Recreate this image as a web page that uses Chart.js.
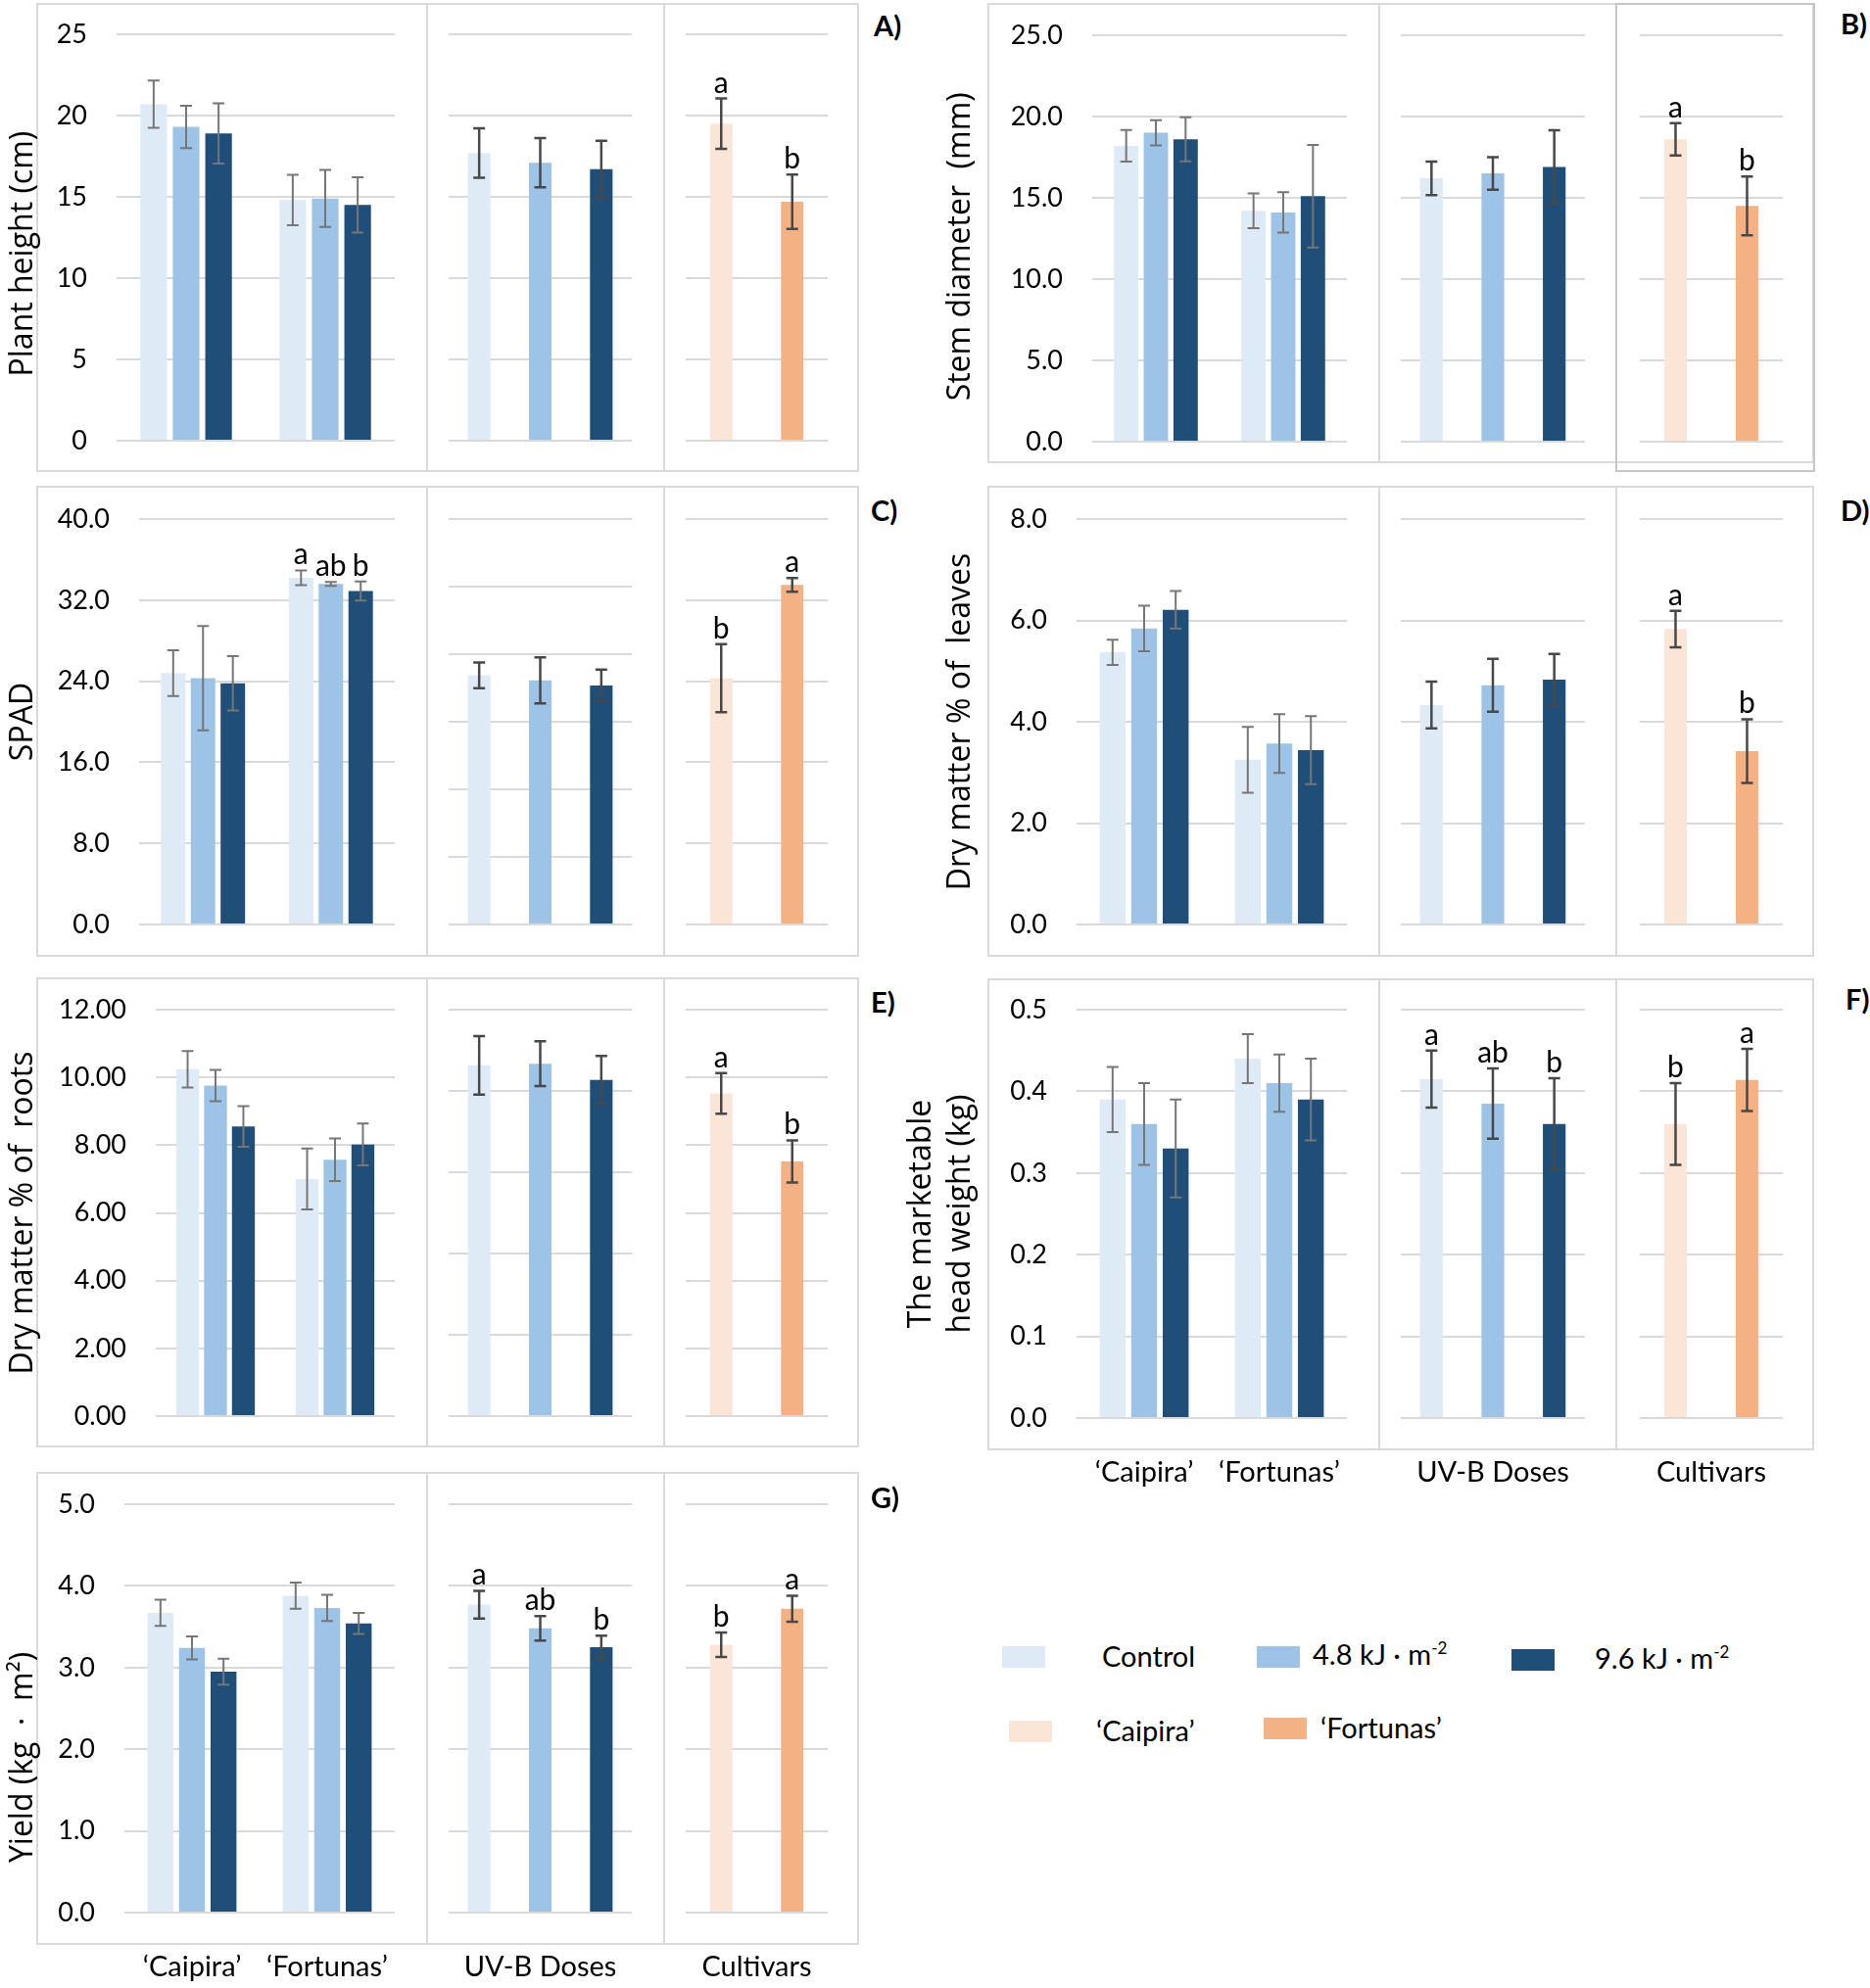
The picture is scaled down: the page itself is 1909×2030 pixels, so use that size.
<!DOCTYPE html>
<html>
<head>
<meta charset="utf-8">
<script src="https://cdn.jsdelivr.net/npm/chart.js@4.4.1/dist/chart.umd.min.js"></script>
<style>
  html, body { margin: 0; padding: 0; background: #fff; overflow: hidden; }
  body { width: 1909px; height: 2030px; position: relative; font-family: Lato, sans-serif; }
  canvas { position: absolute; }
  .box { position: absolute; border: 2px solid #d9d9d9; box-sizing: border-box; }
  .vline { position: absolute; width: 2px; background: #d9d9d9; }
  .tag { position: absolute; font: bold 29px Lato; line-height: 1; color: #000; }
  .sw { position: absolute; width: 44px; height: 22px; }
  .lt { position: absolute; font: 29px Lato; line-height: 1; white-space: nowrap; color: #000; }
  .lt sup { font-size: 17px; vertical-align: 11px; }
</style>
</head>
<body>
<script>
// categories
const cultivars = ['\u2018Caipira\u2019', '\u2018Fortunas\u2019'];
const doses = ['Control', '4.8 kJ \u00b7 m-2', '9.6 kJ \u00b7 m-2'];

// A) plant height (cm)
const heightTicks = ['0', '5', '10', '15', '20', '25'];
const heightCaipira = [20.7, 19.3, 18.9];
const heightCaipiraSd = [1.45, 1.3, 1.85];
const heightFortunas = [14.8, 14.9, 14.5];
const heightFortunasSd = [1.55, 1.75, 1.7];
const heightDose = [17.7, 17.1, 16.7];
const heightDoseSd = [1.52, 1.52, 1.75];
const heightCult = [19.5, 14.7];
const heightCultSd = [1.55, 1.67];
const heightCultLetters = ['a', 'b'];

// B) stem diameter (mm)
const stemTicks = ['0.0', '5.0', '10.0', '15.0', '20.0', '25.0'];
const stemCaipira = [18.2, 19.0, 18.6];
const stemCaipiraSd = [0.97, 0.78, 1.36];
const stemFortunas = [14.2, 14.1, 15.1];
const stemFortunasSd = [1.07, 1.24, 3.15];
const stemDose = [16.2, 16.5, 16.9];
const stemDoseSd = [1.03, 1.0, 2.25];
const stemCult = [18.6, 14.5];
const stemCultSd = [1.0, 1.81];
const stemCultLetters = ['a', 'b'];

// C) SPAD
const spadTicks = ['0.0', '8.0', '16.0', '24.0', '32.0', '40.0'];
const spadDoseTicks = ['0.0', '8.0', '16.0', '24.0', '32.0', '40.0', '48.0'];
const spadCaipira = [24.8, 24.3, 23.8];
const spadCaipiraSd = [2.26, 5.15, 2.68];
const spadFortunas = [34.2, 33.6, 32.9];
const spadFortunasSd = [0.73, 0.2, 0.94];
const spadFortunasLetters = ['a', 'ab', 'b'];
const spadDose = [29.5, 28.9, 28.3];
const spadDoseSd = [1.52, 2.72, 1.86];
const spadCult = [24.3, 33.5];
const spadCultSd = [3.35, 0.67];
const spadCultLetters = ['b', 'a'];

// D) dry matter % of leaves
const leafTicks = ['0.0', '2.0', '4.0', '6.0', '8.0'];
const leafCaipira = [5.37, 5.84, 6.21];
const leafCaipiraSd = [0.25, 0.45, 0.37];
const leafFortunas = [3.25, 3.57, 3.44];
const leafFortunasSd = [0.65, 0.58, 0.67];
const leafDose = [4.33, 4.72, 4.83];
const leafDoseSd = [0.46, 0.52, 0.51];
const leafCult = [5.83, 3.42];
const leafCultSd = [0.36, 0.63];
const leafCultLetters = ['a', 'b'];

// E) dry matter % of roots
const rootTicks = ['0.00', '2.00', '4.00', '6.00', '8.00', '10.00', '12.00'];
const rootDoseTicks = ['0.00', '2.00', '4.00', '6.00', '8.00', '10.00'];
const rootCaipira = [10.24, 9.76, 8.55];
const rootCaipiraSd = [0.54, 0.46, 0.6];
const rootFortunas = [7.0, 7.57, 8.02];
const rootFortunasSd = [0.9, 0.63, 0.62];
const rootDose = [8.63, 8.67, 8.27];
const rootDoseSd = [0.72, 0.55, 0.59];
const rootCult = [9.53, 7.52];
const rootCultSd = [0.6, 0.62];
const rootCultLetters = ['a', 'b'];

// F) marketable head weight (kg)
const headTicks = ['0.0', '0.1', '0.2', '0.3', '0.4', '0.5'];
const headCaipira = [0.39, 0.36, 0.33];
const headCaipiraSd = [0.04, 0.05, 0.06];
const headFortunas = [0.44, 0.41, 0.39];
const headFortunasSd = [0.03, 0.035, 0.05];
const headDose = [0.415, 0.385, 0.36];
const headDoseSd = [0.035, 0.043, 0.056];
const headDoseLetters = ['a', 'ab', 'b'];
const headCult = [0.36, 0.414];
const headCultSd = [0.05, 0.038];
const headCultLetters = ['b', 'a'];

// G) yield (kg m-2)
const yieldTicks = ['0.0', '1.0', '2.0', '3.0', '4.0', '5.0'];
const yieldCaipira = [3.67, 3.24, 2.95];
const yieldCaipiraSd = [0.16, 0.14, 0.16];
const yieldFortunas = [3.88, 3.73, 3.54];
const yieldFortunasSd = [0.16, 0.16, 0.13];
const yieldDose = [3.77, 3.48, 3.25];
const yieldDoseSd = [0.17, 0.15, 0.14];
const yieldDoseLetters = ['a', 'ab', 'b'];
const yieldCult = [3.28, 3.72];
const yieldCultSd = [0.15, 0.16];
const yieldCultLetters = ['b', 'a'];

const doseColors = ['#DEEBF7', '#9DC3E6', '#1F4E79'];
const cultColors = ['#FBE5D6', '#F4B183'];

// trailing blanks nudge a rotated title down the axis
const pad = n => ' '.repeat(n);

const panels = [
  { tag: 'A)', col: 0, box: [3, 482], plot: [35, 450], s1L: 119, tagPos: [892, 11],
    title: 'Plant height (cm)' + pad(4), ticks: heightTicks, doseTicks: heightTicks,
    caipira: heightCaipira, caipiraSd: heightCaipiraSd, fortunas: heightFortunas, fortunasSd: heightFortunasSd,
    dose: heightDose, doseSd: heightDoseSd, cult: heightCult, cultSd: heightCultSd, cultLetters: heightCultLetters },
  { tag: 'B)', col: 1, box: [3, 473], plot: [36, 451], s1L: 1115, tagPos: [1879, 9],
    title: 'Stem diameter  (mm)' + pad(2), ticks: stemTicks, doseTicks: stemTicks,
    caipira: stemCaipira, caipiraSd: stemCaipiraSd, fortunas: stemFortunas, fortunasSd: stemFortunasSd,
    dose: stemDose, doseSd: stemDoseSd, cult: stemCult, cultSd: stemCultSd, cultLetters: stemCultLetters },
  { tag: 'C)', col: 0, box: [496, 977], plot: [530, 944], s1L: 142, tagPos: [889, 506],
    title: 'SPAD', ticks: spadTicks, doseTicks: spadDoseTicks,
    caipira: spadCaipira, caipiraSd: spadCaipiraSd, fortunas: spadFortunas, fortunasSd: spadFortunasSd,
    fortunasLetters: spadFortunasLetters,
    dose: spadDose, doseSd: spadDoseSd, cult: spadCult, cultSd: spadCultSd, cultLetters: spadCultLetters },
  { tag: 'D)', col: 1, box: [496, 977], plot: [530, 944], s1L: 1099, tagPos: [1879, 506],
    title: 'Dry matter % of  leaves', ticks: leafTicks, doseTicks: leafTicks,
    caipira: leafCaipira, caipiraSd: leafCaipiraSd, fortunas: leafFortunas, fortunasSd: leafFortunasSd,
    dose: leafDose, doseSd: leafDoseSd, cult: leafCult, cultSd: leafCultSd, cultLetters: leafCultLetters },
  { tag: 'E)', col: 0, box: [998, 1478], plot: [1031, 1446], s1L: 159, tagPos: [889, 1008],
    title: 'Dry matter % of  roots', ticks: rootTicks, doseTicks: rootDoseTicks,
    caipira: rootCaipira, caipiraSd: rootCaipiraSd, fortunas: rootFortunas, fortunasSd: rootFortunasSd,
    dose: rootDose, doseSd: rootDoseSd, cult: rootCult, cultSd: rootCultSd, cultLetters: rootCultLetters },
  { tag: 'F)', col: 1, box: [999, 1481], plot: [1031, 1448], s1L: 1099, tagPos: [1884, 1005],
    canvasL: 900, labels: true,
    title: ['The marketable', 'head weight (kg)'], ticks: headTicks, doseTicks: headTicks,
    caipira: headCaipira, caipiraSd: headCaipiraSd, fortunas: headFortunas, fortunasSd: headFortunasSd,
    dose: headDose, doseSd: headDoseSd, doseLetters: headDoseLetters,
    cult: headCult, cultSd: headCultSd, cultLetters: headCultLetters },
  { tag: 'G)', col: 0, box: [1503, 1986], plot: [1536, 1953], s1L: 127, tagPos: [889, 1514],
    labels: true,
    title: 'Yield (kg  \u00b7  m\u00b2)' + pad(12), ticks: yieldTicks, doseTicks: yieldTicks,
    caipira: yieldCaipira, caipiraSd: yieldCaipiraSd, fortunas: yieldFortunas, fortunasSd: yieldFortunasSd,
    dose: yieldDose, doseSd: yieldDoseSd, doseLetters: yieldDoseLetters,
    cult: yieldCult, cultSd: yieldCultSd, cultLetters: yieldCultLetters },
];

const colGeo = [
  { boxL: 37, d1: 436, d2: 678, boxR: 877, s1R: 403, s2: [458, 645], s3: [700, 845], canvasL: 0 },
  { boxL: 1008, d1: 1408, d2: 1650, boxR: 1852, s1R: 1375, s2: [1430, 1618], s3: [1674, 1820], canvasL: 940 },
];

const titleSize = 32;

const errorBars = {
  id: 'errorBars',
  afterDatasetsDraw(chart, args, opts) {
    const ctx = chart.ctx;
    const y = chart.scales.y;
    chart.data.datasets.forEach((ds, i) => {
      chart.getDatasetMeta(i).data.forEach((bar, j) => {
        const v = ds.data[j], e = ds.errors[j];
        const yTop = y.getPixelForValue(v + e);
        const yBot = y.getPixelForValue(v - e);
        ctx.save();
        ctx.strokeStyle = opts.color;
        ctx.lineWidth = opts.width;
        ctx.beginPath();
        ctx.moveTo(bar.x, yTop); ctx.lineTo(bar.x, yBot);
        ctx.moveTo(bar.x - 6, yTop); ctx.lineTo(bar.x + 6, yTop);
        ctx.moveTo(bar.x - 6, yBot); ctx.lineTo(bar.x + 6, yBot);
        ctx.stroke();
        const letter = ds.letters && ds.letters[j];
        if (letter) {
          ctx.fillStyle = '#000';
          ctx.font = '30px Lato';
          ctx.textAlign = 'center';
          ctx.textBaseline = 'alphabetic';
          ctx.fillText(letter, bar.x, yTop - 6);
        }
        ctx.restore();
      });
    });
  }
};

function addDiv(cls, l, t, w, h, extra) {
  const d = document.createElement('div');
  d.className = cls;
  d.style.left = l + 'px'; d.style.top = t + 'px';
  if (w != null) d.style.width = w + 'px';
  if (h != null) d.style.height = h + 'px';
  if (extra) Object.assign(d.style, extra);
  document.body.appendChild(d);
  return d;
}

function makeChart(rect, area, opt) {
  const c = document.createElement('canvas');
  c.width = rect.w; c.height = rect.h;
  c.style.left = rect.l + 'px'; c.style.top = rect.t + 'px';
  document.body.appendChild(c);
  const yw = opt.yLabels ? area.l - rect.l : 0;
  const xh = opt.xh;
  const tickStrs = opt.ticks;
  const vals = tickStrs.map(Number);
  new Chart(c, {
    type: 'bar',
    data: { labels: opt.labels, datasets: opt.datasets },
    options: {
      responsive: false,
      animation: false,
      devicePixelRatio: 1,
      layout: { padding: {
        left: area.l - rect.l - yw,
        top: area.t - rect.t,
        right: rect.l + rect.w - area.r,
        bottom: rect.t + rect.h - area.b - xh
      } },
      datasets: { bar: { categoryPercentage: opt.catPct, barPercentage: opt.barPct, borderWidth: 0 } },
      plugins: {
        legend: { display: false },
        tooltip: { enabled: false },
        errorBars: { color: opt.errColor, width: opt.errWidth }
      },
      scales: {
        x: {
          afterFit: s => { s.height = xh; s.paddingLeft = 0; s.paddingRight = 0; },
          grid: { display: false, drawTicks: false },
          border: { display: false },
          ticks: { display: !!opt.xTicks, padding: 38, color: '#000', maxRotation: 0, autoSkip: false,
                   font: { family: 'Lato', size: 29 } },
          title: opt.xTitle ? { display: true, text: opt.xTitle, color: '#000',
                   font: { family: 'Lato', size: 29 }, padding: { top: 0, bottom: 2 } } : { display: false }
        },
        y: {
          min: vals[0],
          max: vals[vals.length - 1],
          afterBuildTicks: s => { s.ticks = vals.map(v => ({ value: v })); },
          afterFit: s => { s.width = yw; s.paddingTop = 0; s.paddingBottom = 0; },
          grid: { color: '#d9d9d9', lineWidth: 2, drawTicks: false },
          border: { display: false },
          ticks: { display: !!opt.yLabels, padding: 30, color: '#000',
                   font: { family: 'Lato', size: 27 }, callback: (v, i) => tickStrs[i] },
          title: opt.yTitle ? { display: true, text: opt.yTitle, color: '#000',
                   font: { family: 'Open Sans', size: titleSize, lineHeight: opt.titleLH },
                   padding: { top: opt.titlePad, bottom: 0 } } : { display: false }
        }
      }
    },
    plugins: [errorBars]
  });
}

panels.forEach(p => {
  const g = colGeo[p.col];
  addDiv('box', g.boxL, p.box[0], g.boxR - g.boxL, p.box[1] - p.box[0]);
  addDiv('vline', g.d1 - 1, p.box[0], null, p.box[1] - p.box[0]);
  addDiv('vline', g.d2 - 1, p.box[0], null, p.box[1] - p.box[0]);
  if (p.tag === 'B)') {
    addDiv('box', g.d2 - 1, p.box[0], g.boxR - g.d2 + 2, 482 - p.box[0], { borderColor: '#c6c6c6' });
  }
  addDiv('tag', p.tagPos[0], p.tagPos[1]).textContent = p.tag;

  const xh = p.labels ? 75 : 0;
  const top = p.box[0];
  const h = (p.labels ? p.plot[1] + xh : p.box[1]) - top;
  const L1 = p.canvasL != null ? p.canvasL : g.canvasL;
  const multi = Array.isArray(p.title);
  const lh = multi ? 40 / titleSize : 1.2;
  const titleCenter = p.col === 0 ? 24 : (multi ? 941 : 981);

  // interaction: cultivar x dose
  makeChart({ l: L1, t: top, w: g.d1 - L1, h: h },
    { l: p.s1L, t: p.plot[0], r: g.s1R, b: p.plot[1] },
    {
      labels: cultivars,
      datasets: doses.map((d, k) => ({
        label: d,
        data: [p.caipira[k], p.fortunas[k]],
        errors: [p.caipiraSd[k], p.fortunasSd[k]],
        letters: ['', p.fortunasLetters ? p.fortunasLetters[k] : ''],
        backgroundColor: doseColors[k]
      })),
      ticks: p.ticks, yLabels: true, yTitle: p.title, titleLH: lh,
      titlePad: titleCenter - L1 - titleSize * lh / 2,
      xh: xh, xTicks: p.labels, catPct: 0.7, barPct: 0.82,
      errColor: '#767676', errWidth: 2
    });

  // UV-B doses
  makeChart({ l: g.d1, t: top, w: g.d2 - g.d1, h: h },
    { l: g.s2[0], t: p.plot[0], r: g.s2[1], b: p.plot[1] },
    {
      labels: doses,
      datasets: [{ data: p.dose, errors: p.doseSd, letters: p.doseLetters, backgroundColor: doseColors }],
      ticks: p.doseTicks, yLabels: false, xh: xh, xTitle: p.labels ? 'UV-B Doses' : null,
      catPct: 0.37, barPct: 1, errColor: '#484848', errWidth: 2.5
    });

  // cultivars
  makeChart({ l: g.d2, t: top, w: g.boxR - g.d2, h: h },
    { l: g.s3[0], t: p.plot[0], r: g.s3[1], b: p.plot[1] },
    {
      labels: cultivars,
      datasets: [{ data: p.cult, errors: p.cultSd, letters: p.cultLetters, backgroundColor: cultColors }],
      ticks: p.ticks, yLabels: false, xh: xh, xTitle: p.labels ? 'Cultivars' : null,
      catPct: 0.315, barPct: 1, errColor: '#484848', errWidth: 2.5
    });
});

// legend
const legendItems = [
  { text: doses[0], color: doseColors[0], sw: [1023, 1681], tx: [1125, 1676] },
  { text: doses[1], color: doseColors[1], sw: [1283, 1681], tx: [1340, 1674] },
  { text: doses[2], color: doseColors[2], sw: [1543, 1684], tx: [1628, 1678] },
  { text: cultivars[0], color: cultColors[0], sw: [1030, 1757], tx: [1119, 1752] },
  { text: cultivars[1], color: cultColors[1], sw: [1290, 1754], tx: [1348, 1749] },
];
legendItems.forEach(it => {
  addDiv('sw', it.sw[0], it.sw[1], null, null, { background: it.color });
  const t = addDiv('lt', it.tx[0], it.tx[1]);
  t.innerHTML = it.text.replace(/m-2$/, 'm<sup>-2</sup>');
});
</script>
</body>
</html>
